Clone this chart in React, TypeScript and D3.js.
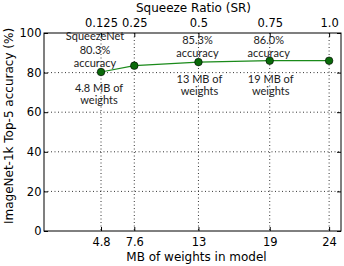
import React, { useEffect, useRef } from 'react';
import * as d3 from 'd3';

// data
const modelSizes = [4.8, 7.6, 13, 19, 24];
const squeezeRatios = ['0.125', '0.25', '0.5', '0.75', '1.0'];
const accuracy = [80.3, 83.5, 85.3, 86.0, 86.0];
const yTicks = [0, 20, 40, 60, 80, 100];

const notes = [
  { x: 4.8, above: ['SqueezeNet', '80.3%', 'accuracy'], below: ['4.8 MB of', 'weights'] },
  { x: 13, above: ['85.3%', 'accuracy'], below: ['13 MB of', 'weights'] },
  { x: 19, above: ['86.0%', 'accuracy'], below: ['19 MB of', 'weights'] },
];

const App = () => {
  const svgRef = useRef<SVGSVGElement>(null);

  useEffect(() => {
    const margin = { top: 33, right: 3, bottom: 35, left: 44 };
    const W = 344, H = 266;
    const width = W - margin.left - margin.right;
    const height = H - margin.top - margin.bottom;

    const root = d3.select(svgRef.current);
    root.selectAll('*').remove();
    const svg = root.append('g').attr('transform', `translate(${margin.left},${margin.top})`);

    const x = d3.scaleLinear().domain([0, 25]).range([0, width]);
    const y = d3.scaleLinear().domain([0, 100]).range([height, 0]);

    // grid
    svg.selectAll('.hgrid')
      .data(yTicks.filter(d => d > 0 && d < 100))
      .enter().append('line')
      .attr('x1', 0).attr('x2', width)
      .attr('y1', d => y(d)).attr('y2', d => y(d))
      .attr('stroke', '#000').attr('stroke-width', 0.8)
      .attr('stroke-dasharray', '1,2.5');
    svg.selectAll('.vgrid')
      .data(modelSizes)
      .enter().append('line')
      .attr('x1', d => x(d)).attr('x2', d => x(d))
      .attr('y1', 0).attr('y2', height)
      .attr('stroke', '#000').attr('stroke-width', 0.8)
      .attr('stroke-dasharray', '1,2.5');

    const font = 'DejaVu Sans, sans-serif';

    // bottom axis
    const bottom = svg.append('g')
      .attr('transform', `translate(0,${height})`)
      .call(d3.axisBottom(x).tickValues(modelSizes).tickFormat(d => String(d)).tickSizeInner(-4).tickSizeOuter(0).tickPadding(7));
    bottom.select('.domain').remove();
    bottom.selectAll('text').attr('font-family', font).attr('font-size', 11.5).attr('fill', '#000');

    // top axis
    const top = svg.append('g')
      .call(d3.axisTop(x).tickValues(modelSizes).tickFormat((d, i) => squeezeRatios[i]).tickSizeInner(-4).tickSizeOuter(0).tickPadding(6));
    top.select('.domain').remove();
    top.selectAll('text').attr('font-family', font).attr('font-size', 11.5).attr('fill', '#000');

    // left axis
    const left = svg.append('g')
      .call(d3.axisLeft(y).tickValues(yTicks).tickSizeInner(-4).tickSizeOuter(0).tickPadding(2.5));
    left.select('.domain').remove();
    left.selectAll('text').attr('font-family', font).attr('font-size', 11.5).attr('fill', '#000');

    // right ticks
    const right = svg.append('g')
      .attr('transform', `translate(${width},0)`)
      .call(d3.axisRight(y).tickValues(yTicks).tickSizeInner(-4).tickSizeOuter(0).tickFormat(() => ''));
    right.select('.domain').remove();

    // frame
    svg.append('rect')
      .attr('width', width).attr('height', height)
      .attr('fill', 'none').attr('stroke', '#000').attr('stroke-width', 1);

    // line + markers
    const line = d3.line<number>()
      .x((d, i) => x(modelSizes[i]))
      .y(d => y(d));
    svg.append('path')
      .datum(accuracy)
      .attr('fill', 'none')
      .attr('stroke', '#1a8a1a')
      .attr('stroke-width', 1.2)
      .attr('d', line);
    svg.selectAll('.pt')
      .data(accuracy)
      .enter().append('circle')
      .attr('cx', (d, i) => x(modelSizes[i]))
      .attr('cy', d => y(d))
      .attr('r', 3.8)
      .attr('fill', '#0a6a0a')
      .attr('stroke', '#000')
      .attr('stroke-width', 0.6);

    // annotations
    const noteFont = 'Lato, Open Sans, sans-serif';
    notes.forEach(n => {
      const first = n.x === 4.8;
      n.above.forEach((t, i) => {
        svg.append('text')
          .attr('x', x(n.x) - (first ? 6 : 1))
          .attr('y', (first ? 7 : 11) + i * (first ? 13.5 : 12.5))
          .attr('text-anchor', 'middle')
          .attr('font-family', noteFont).attr('font-size', 11).attr('fill', '#222')
          .text(t);
      });
      n.below.forEach((t, i) => {
        svg.append('text')
          .attr('x', x(n.x) + (first ? -2 : 1))
          .attr('y', (first ? 59 : 50) + i * 12)
          .attr('text-anchor', 'middle')
          .attr('font-family', noteFont).attr('font-size', 11).attr('fill', '#222')
          .text(t);
      });
    });

    // axis titles
    svg.append('text')
      .attr('x', width / 2 + 1).attr('y', -21)
      .attr('text-anchor', 'middle')
      .attr('font-family', font).attr('font-size', 12)
      .text('Squeeze Ratio (SR)');
    svg.append('text')
      .attr('x', width / 2 + 4).attr('y', height + 30)
      .attr('text-anchor', 'middle')
      .attr('font-family', font).attr('font-size', 12)
      .text('MB of weights in model');
    svg.append('text')
      .attr('transform', `translate(${-31},${height / 2 - 6}) rotate(-90)`)
      .attr('text-anchor', 'middle')
      .attr('font-family', font).attr('font-size', 12)
      .text('ImageNet-1k Top-5 accuracy (%)');
  }, []);

  return (
    <svg ref={svgRef} width={344} height={266}
      style={{ position: 'absolute', left: 0, top: 0, background: '#fff' }} />
  );
};

export default App;
